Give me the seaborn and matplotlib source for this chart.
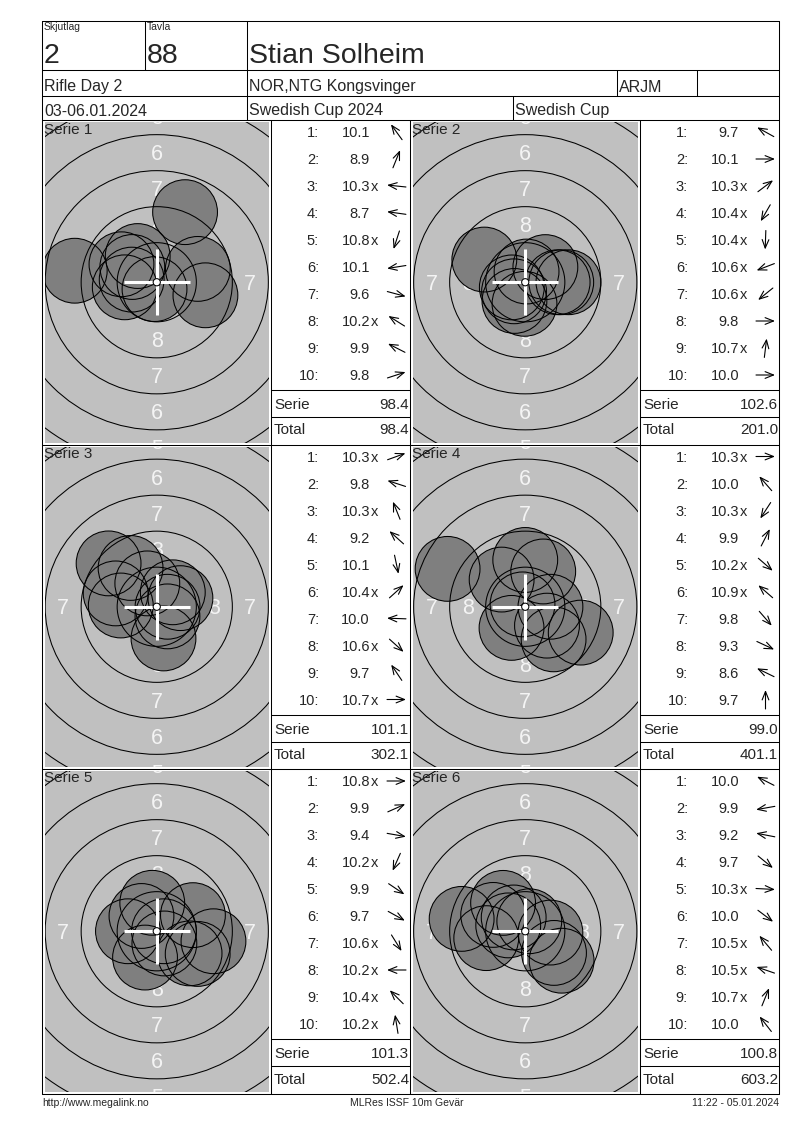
import matplotlib
matplotlib.use("Agg")
import matplotlib.pyplot as plt
from matplotlib.patches import Circle
import numpy as np
import seaborn as sns

# header / footer texts
SKJUTLAG = "2"
TAVLA = "88"
NAME = "Stian Solheim"
EVENT = "Rifle Day 2"
CLUB = "NOR,NTG Kongsvinger"
CLASS = "ARJM"
DATE = "03-06.01.2024"
COMPETITION = "Swedish Cup 2024"
CUP = "Swedish Cup"
FOOTER_LEFT = "http://www.megalink.no"
FOOTER_MID = "MLRes ISSF 10m Gevär"
FOOTER_RIGHT = "11:22 - 05.01.2024"

SERIES_NAMES = ["Serie 1", "Serie 2", "Serie 3", "Serie 4", "Serie 5", "Serie 6"]

# shot values as printed, and shot direction (degrees, 0 = right, 90 = up)
SERIE1_SCORES = ["10.1", "8.9", "10.3x", "8.7", "10.8x", "10.1", "9.6", "10.2x", "9.9", "9.8"]
SERIE1_DIRS = [126, 68, 174, 172, 252, 189, 345, 148, 153, 18]
SERIE2_SCORES = ["9.7", "10.1", "10.3x", "10.4x", "10.4x", "10.6x", "10.6x", "9.8", "10.7x", "10.0"]
SERIE2_DIRS = [151, 0, 37, 240, 268, 201, 219, 0, 83, 0]
SERIE3_SCORES = ["10.3x", "9.8", "10.3x", "9.2", "10.1", "10.4x", "10.0", "10.6x", "9.7", "10.7x"]
SERIE3_DIRS = [20, 162, 112, 138, 282, 42, 178, 318, 124, 0]
SERIE4_SCORES = ["10.3x", "10.0", "10.3x", "9.9", "10.2x", "10.9x", "9.8", "9.3", "8.6", "9.7"]
SERIE4_DIRS = [0, 131, 237, 63, 319, 139, 311, 335, 154, 90]
SERIE5_SCORES = ["10.8x", "9.9", "9.4", "10.2x", "9.9", "9.7", "10.6x", "10.2x", "10.4x", "10.2x"]
SERIE5_DIRS = [0, 24, 350, 246, 326, 331, 302, 180, 135, 99]
SERIE6_SCORES = ["10.0", "9.9", "9.2", "9.7", "10.3x", "10.0", "10.5x", "10.5x", "10.7x", "10.0"]
SERIE6_DIRS = [153, 190, 169, 321, 357, 323, 130, 161, 68, 128]

RING_NUMBERS = [8, 7, 6, 5]

SCORES = [SERIE1_SCORES, SERIE2_SCORES, SERIE3_SCORES, SERIE4_SCORES, SERIE5_SCORES, SERIE6_SCORES]
DIRS = [SERIE1_DIRS, SERIE2_DIRS, SERIE3_DIRS, SERIE4_DIRS, SERIE5_DIRS, SERIE6_DIRS]

# ISSF 10m rifle target geometry (mm)
RING_R = {10: 0.25, 9: 2.75, 8: 5.25, 7: 7.75, 6: 10.25, 5: 12.75, 4: 15.25}
PELLET_R = 2.25
PX_PER_MM = 14.4

W, H = 800, 1130
LEFT, RIGHT, TOP = 42, 779, 21
ROW_TOP = 120
ROW_H = 324.5
TARGET_COLS = [(42, 271), (410, 640)]
TABLE_COLS = [(271, 410), (640, 779)]

BG = "#c0c0c0"
SHOT = "#7f7f7f"
LW = 0.75

sns.set_theme(style="white")
plt.rcParams["font.family"] = ["Liberation Sans", "DejaVu Sans"]


def shot_xy(labels, dirs):
    s = np.array([float(t.rstrip("x")) for t in labels])
    d = (11.0 - s) * 2.5
    a = np.deg2rad(np.array(dirs, dtype=float))
    return d * np.cos(a), d * np.sin(a)


def draw_target(fig, x0, x1, y0, y1, labels, dirs):
    gx0, gx1, gy0, gy1 = x0 + 2.5, x1 - 2, y0 + 2, y1 - 2
    ax = fig.add_axes([gx0 / W, 1 - gy1 / H, (gx1 - gx0) / W, (gy1 - gy0) / H])
    ax.set_facecolor(BG)
    hw = (gx1 - gx0) / 2 / PX_PER_MM
    hh = (gy1 - gy0) / 2 / PX_PER_MM
    ax.set_xlim(-hw, hw)
    ax.set_ylim(-hh, hh)
    ax.set_xticks([])
    ax.set_yticks([])
    for sp in ax.spines.values():
        sp.set_visible(False)

    # ring numbers (only those that fall on the visible part of the card)
    for n in RING_NUMBERS:
        r = (RING_R[n] + RING_R[n + 1]) / 2
        for px, py in [(0, r), (0, -r), (-r, 0), (r, 0)]:
            if abs(px) > hw - 0.3:
                continue
            ax.text(px, py - 0.52, str(n), color="#f4f4f4", fontsize=15.5,
                    ha="center", va="baseline", zorder=1, clip_on=True)

    xs, ys = shot_xy(labels, dirs)
    size = (2 * PELLET_R * PX_PER_MM * 72 / 100) ** 2
    sns.scatterplot(x=xs, y=ys, s=size, color=SHOT, edgecolor="none",
                    linewidth=0, ax=ax, zorder=2, legend=False)

    for n in [9, 8, 7, 6, 5, 4]:
        ax.add_patch(Circle((0, 0), RING_R[n], fill=False, ec="black", lw=LW, zorder=3))

    sns.scatterplot(x=xs, y=ys, s=size, color="black", linewidth=LW,
                    ax=ax, zorder=4, legend=False)
    coll = ax.collections[-1]
    coll.set_facecolor("none")
    coll.set_edgecolor("black")

    arm = 33 / PX_PER_MM
    ax.plot([-arm, arm], [0, 0], color="white", lw=2.2, solid_capstyle="butt", zorder=5)
    ax.plot([0, 0], [-arm, arm], color="white", lw=2.2, solid_capstyle="butt", zorder=5)
    ax.add_patch(Circle((0, 0), RING_R[10], fc="white", ec="black", lw=LW, zorder=6))
    return ax


def draw_table(ax, left, top, labels, dirs, prev_total):
    for i, (lab, ang) in enumerate(zip(labels, dirs)):
        yc = top + 12 + 27 * i
        yb = yc + 5.3
        ax.text(left + 48, yb, f"{i + 1}:", ha="right", va="baseline", fontsize=10.5)
        ax.text(left + 99, yb, lab.rstrip("x"), ha="right", va="baseline", fontsize=10.5)
        if lab.endswith("x"):
            ax.text(left + 99.5, yb, "x", ha="left", va="baseline", fontsize=10.5)
        a = np.deg2rad(ang)
        cx = left + 125.5
        dx, dy = np.cos(a) * 9.5, -np.sin(a) * 9.5
        ax.annotate("", xy=(cx + dx, yc + dy), xytext=(cx - dx, yc - dy),
                    arrowprops=dict(arrowstyle="->,head_length=0.55,head_width=0.22",
                                    lw=0.8, color="black", shrinkA=0, shrinkB=0,
                                    mutation_scale=11))
    serie = sum(float(t.rstrip("x")) for t in labels)
    total = prev_total + serie
    ax.plot([left, left + 139], [top + 270, top + 270], color="black", lw=LW)
    ax.plot([left, left + 139], [top + 297, top + 297], color="black", lw=LW)
    ax.text(left + 3, top + 289, "Serie", ha="left", va="baseline", fontsize=11)
    ax.text(left + 138, top + 289, f"{serie:.1f}", ha="right", va="baseline", fontsize=11)
    ax.text(left + 3, top + 314.5, "Total", ha="left", va="baseline", fontsize=11)
    ax.text(left + 138, top + 314.5, f"{total:.1f}", ha="right", va="baseline", fontsize=11)
    return total


fig = plt.figure(figsize=(8, 11.3), dpi=100)
fig.patch.set_facecolor("white")

targets = []
for k in range(6):
    row, col = divmod(k, 2)
    y0 = ROW_TOP + row * ROW_H
    x0, x1 = TARGET_COLS[col]
    targets.append(draw_target(fig, x0, x1, y0, y0 + ROW_H, SCORES[k], DIRS[k]))

ax = fig.add_axes([0, 0, 1, 1], zorder=10)
ax.set_xlim(0, W)
ax.set_ylim(H, 0)
ax.axis("off")
ax.patch.set_alpha(0)


def hline(y, xa, xb):
    ax.plot([xa, xb], [y, y], color="black", lw=LW)


def vline(x, ya, yb):
    ax.plot([x, x], [ya, yb], color="black", lw=LW)


bottom = ROW_TOP + 3 * ROW_H
# outer frame and header grid
hline(TOP, LEFT, RIGHT)
hline(bottom, LEFT, RIGHT)
vline(LEFT, TOP, bottom)
vline(RIGHT, TOP, bottom)
hline(70, LEFT, RIGHT)
hline(96, LEFT, RIGHT)
hline(ROW_TOP, LEFT, RIGHT)
vline(145, TOP, 70)
vline(247, TOP, ROW_TOP)
vline(617, 70, 96)
vline(697, 70, 96)
vline(513, 96, ROW_TOP)
for r in range(1, 3):
    hline(ROW_TOP + r * ROW_H, LEFT, RIGHT)
for x in [271, 410, 640]:
    vline(x, ROW_TOP, bottom)

ax.text(44, 22.5, "Skjutlag", fontsize=7.5, ha="left", va="top")
ax.text(147, 22.5, "Tavla", fontsize=7.5, ha="left", va="top")
ax.text(44, 63, SKJUTLAG, fontsize=20.5, ha="left", va="baseline")
ax.text(147, 63, TAVLA, fontsize=20.5, ha="left", va="baseline")
ax.text(249, 63, NAME, fontsize=20.5, ha="left", va="baseline")
ax.text(44, 91.5, EVENT, fontsize=11.5, ha="left", va="baseline")
ax.text(249, 91.5, CLUB, fontsize=11.5, ha="left", va="baseline")
ax.text(619, 91.5, CLASS, fontsize=11.5, ha="left", va="baseline")
ax.text(44, 115.5, DATE, fontsize=11.5, ha="left", va="baseline")
ax.text(249, 115.5, COMPETITION, fontsize=11.5, ha="left", va="baseline")
ax.text(515, 115.5, CUP, fontsize=11.5, ha="left", va="baseline")

running = 0.0
for k in range(6):
    row, col = divmod(k, 2)
    y0 = ROW_TOP + row * ROW_H
    tx0 = TARGET_COLS[col][0]
    ax.text(tx0 + 2, y0 + 13.5, SERIES_NAMES[k], fontsize=11, ha="left", va="baseline")
    running = draw_table(ax, TABLE_COLS[col][0], y0, SCORES[k], DIRS[k], running)

ax.text(LEFT, 1105.5, FOOTER_LEFT, fontsize=7.5, ha="left", va="baseline")
ax.text(407, 1105.5, FOOTER_MID, fontsize=7.5, ha="center", va="baseline")
ax.text(RIGHT, 1105.5, FOOTER_RIGHT, fontsize=7.5, ha="right", va="baseline")

fig.savefig("out.png", dpi=100, facecolor="white")
plt.close(fig)
